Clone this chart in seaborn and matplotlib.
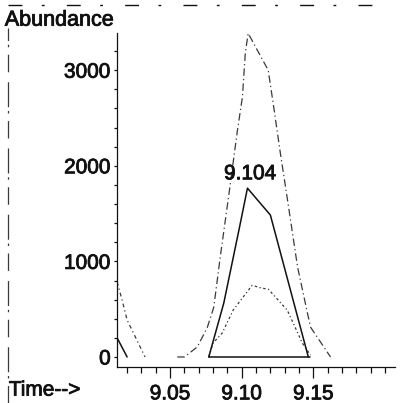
import numpy as np
import pandas as pd
import matplotlib
matplotlib.use("Agg")
import matplotlib.pyplot as plt
import matplotlib.patheffects as pe
from matplotlib.lines import Line2D
from matplotlib.ticker import MultipleLocator, FixedLocator
import seaborn as sns

# integrated ion trace (solid) and its integration baseline
main_t = [9.077, 9.0875, 9.0985, 9.104, 9.120, 9.1465]
main_y = [0, 565, 1360, 1766, 1485, 0]
lead_t = [9.013, 9.020]
lead_y = [200, 0]

# qualifier ion 1 (dash-dot, tallest)
q1_lead_t = [9.013, 9.0165, 9.020, 9.0325]
q1_lead_y = [785, 596, 387, 0]
q1_t = [9.055, 9.060, 9.069, 9.076, 9.0805, 9.085, 9.0905, 9.097, 9.1005, 9.1025,
        9.1045, 9.1185, 9.122, 9.127, 9.132, 9.139, 9.148, 9.162]
q1_y = [0, 0, 105, 310, 520, 1045, 1640, 2370, 2720, 3180,
        3386, 3000, 2650, 2130, 1640, 940, 313, 0]

# qualifier ion 2 (dotted, lower)
q2_t = [9.077, 9.080, 9.0864, 9.094, 9.1073, 9.114, 9.1185, 9.1318, 9.1423, 9.148]
q2_y = [0, 146, 250, 490, 750, 720, 710, 490, 146, 20]

peak_label = 9.104

sns.set_style("ticks")
plt.rcParams["font.family"] = ["Liberation Sans", "DejaVu Sans"]

fig = plt.figure(figsize=(4.01, 4.03), dpi=100)
ax = fig.add_axes([0.292, 0.0893, 0.693, 0.829])

ink = "#111111"
grey = "#3a3a3a"
heavy = [pe.withStroke(linewidth=0.6, foreground=ink)]

sns.lineplot(x=q1_t, y=q1_y, ax=ax, color=grey, lw=0.9, sort=False, estimator=None,
             linestyle=(0, (6, 2.5, 1, 2.5)))
sns.lineplot(x=q1_lead_t, y=q1_lead_y, ax=ax, color=grey, lw=0.9, sort=False, estimator=None,
             linestyle=(0, (3, 2.5, 1, 2.5)))
sns.lineplot(x=q2_t, y=q2_y, ax=ax, color=grey, lw=0.9, sort=False, estimator=None,
             linestyle=(0, (2, 2, 1, 2)))
sns.lineplot(x=main_t, y=main_y, ax=ax, color=ink, lw=1.1, sort=False, estimator=None)
sns.lineplot(x=lead_t, y=lead_y, ax=ax, color=ink, lw=1.1, sort=False, estimator=None)
# baseline of the integrated peak
ax.plot([main_t[0], 9.148], [0, 0], color=ink, lw=1.1)

pk = int(np.argmax(main_y))
ax.annotate(f"{peak_label:.3f}", xy=(main_t[pk], main_y[pk]), xytext=(2, 3.5),
            textcoords="offset points", ha="center", va="bottom", fontsize=15, color=ink,
            path_effects=heavy)

ax.set_xlim(9.013, 9.207)
ax.set_ylim(-105, 3390)
ax.xaxis.set_major_locator(FixedLocator([9.05, 9.10, 9.15]))
ax.xaxis.set_minor_locator(MultipleLocator(0.01))
ax.set_xticklabels(["9.05", "9.10", "9.15"])
ax.yaxis.set_major_locator(FixedLocator([0, 1000, 2000, 3000]))
ax.yaxis.set_minor_locator(MultipleLocator(200))
ax.tick_params(axis="x", which="major", length=8, width=0.9, pad=4.5, labelsize=15, colors=ink)
ax.tick_params(axis="x", which="minor", length=4, width=0.9, colors=ink)
ax.tick_params(axis="y", which="both", length=2.5, width=0.9, pad=2, labelsize=15, colors=ink)
for lab in ax.get_xticklabels() + ax.get_yticklabels():
    lab.set_path_effects(heavy)
ax.set_xlabel("")
ax.set_ylabel("")
sns.despine(ax=ax)
for s in ("left", "bottom"):
    ax.spines[s].set_color(ink)
    ax.spines[s].set_linewidth(0.9)

fig.text(0.012, 0.950, "Abundance", fontsize=15.5, ha="left", va="center", color=ink,
         path_effects=heavy)
fig.text(0.022, 0.032, "Time-->", fontsize=15, ha="left", va="center", color=ink,
         path_effects=heavy)

# scanner edge marks
fig.add_artist(Line2D([0.021, 0.021], [0.0, 0.93], transform=fig.transFigure, color=grey,
                      lw=0.9, linestyle=(0, (14, 6, 2, 3, 20, 8))))
fig.add_artist(Line2D([0.02, 0.96], [0.988, 0.988], transform=fig.transFigure, color=ink,
                      lw=1.0, linestyle=(0, (10, 14, 2, 16))))

fig.savefig("out.png", dpi=100)
